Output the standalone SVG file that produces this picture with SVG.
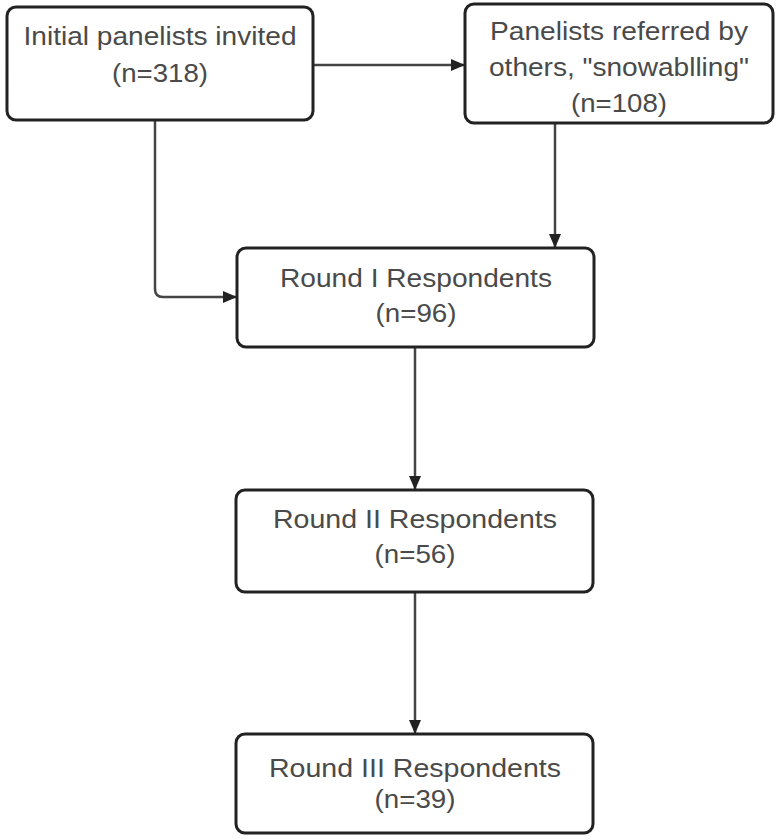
<svg xmlns="http://www.w3.org/2000/svg" width="779" height="839" viewBox="0 0 779 839">
<style>
.box{fill:#fff;stroke:#222;stroke-width:3}
.lbl{font-family:"Liberation Sans",Arial,sans-serif;font-size:26px;fill:#4a4a4a;text-anchor:middle}
.conn{fill:none;stroke:#444;stroke-width:2.5}
</style>
<defs>
<marker id="arr" markerWidth="14" markerHeight="14" refX="13" refY="7" orient="auto" markerUnits="userSpaceOnUse">
<path d="M0,1 L14,7 L0,13 Z" fill="#222"/>
</marker>
</defs>
<rect width="779" height="839" fill="#fff"/>
<g id="connectors">
<path class="conn" d="M313,65 H464" marker-end="url(#arr)"/>
<path class="conn" d="M155,120 V289 Q155,297 163,297 H236" marker-end="url(#arr)"/>
<path class="conn" d="M555,123 V247" marker-end="url(#arr)"/>
<path class="conn" d="M415,347 V489" marker-end="url(#arr)"/>
<path class="conn" d="M415,592 V733" marker-end="url(#arr)"/>
</g>
<g id="initial">
<rect class="box" x="7" y="7" width="306" height="113" rx="9"/>
<text class="lbl" x="160" y="45" textLength="273" lengthAdjust="spacingAndGlyphs">Initial panelists invited</text>
<text class="lbl" x="160" y="82" textLength="96" lengthAdjust="spacingAndGlyphs">(n=318)</text>
</g>
<g id="referred">
<rect class="box" x="465" y="4" width="308" height="119" rx="9"/>
<text class="lbl" x="619" y="40" textLength="258" lengthAdjust="spacingAndGlyphs">Panelists referred by</text>
<text class="lbl" x="619" y="76" textLength="260" lengthAdjust="spacingAndGlyphs">others, "snowablling"</text>
<text class="lbl" x="619" y="112" textLength="96" lengthAdjust="spacingAndGlyphs">(n=108)</text>
</g>
<g id="round1">
<rect class="box" x="237" y="248" width="357" height="99" rx="9"/>
<text class="lbl" x="416" y="287" textLength="272" lengthAdjust="spacingAndGlyphs">Round I Respondents</text>
<text class="lbl" x="416" y="322" textLength="81" lengthAdjust="spacingAndGlyphs">(n=96)</text>
</g>
<g id="round2">
<rect class="box" x="236" y="490" width="357" height="102" rx="9"/>
<text class="lbl" x="415" y="528" textLength="284" lengthAdjust="spacingAndGlyphs">Round II Respondents</text>
<text class="lbl" x="415" y="563" textLength="81" lengthAdjust="spacingAndGlyphs">(n=56)</text>
</g>
<g id="round3">
<rect class="box" x="236" y="734" width="357" height="99" rx="9"/>
<text class="lbl" x="415" y="777" textLength="292" lengthAdjust="spacingAndGlyphs">Round III Respondents</text>
<text class="lbl" x="415" y="808" textLength="81" lengthAdjust="spacingAndGlyphs">(n=39)</text>
</g>
</svg>
